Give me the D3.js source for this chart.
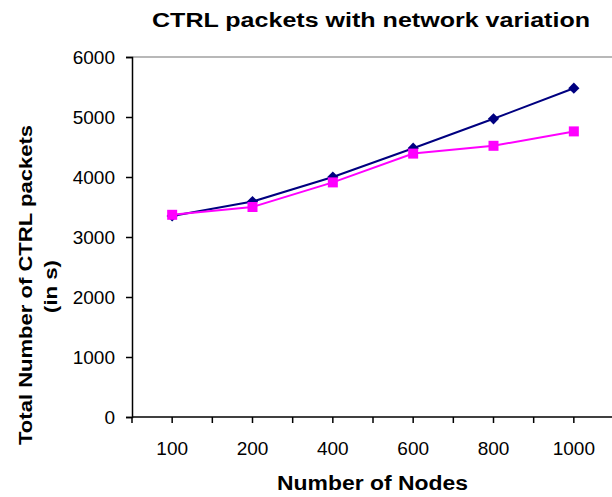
<!DOCTYPE html>
<html><head><meta charset="utf-8">
<script src="https://cdn.jsdelivr.net/npm/d3@7"></script>
<style>body{margin:0;background:#fff}svg{display:block}text{font-family:"Liberation Sans",Arial,sans-serif}</style>
</head><body>
<script>
const categories = ["100","200","400","600","800","1000"];
const seriesA = [3350, 3590, 4000, 4480, 4970, 5480];
const seriesB = [3370, 3500, 3910, 4390, 4520, 4760];
const yTicks = [0,1000,2000,3000,4000,5000,6000];

const W=612,H=497;
const svg=d3.select("body").append("svg").attr("width",W).attr("height",H);
const L=132,R=614,T=57,B=417;
const x=d3.scaleBand().domain(categories).range([L,R]);
const y=d3.scaleLinear().domain([0,6000]).range([B,T]);

// top border
svg.append("line").attr("x1",L).attr("x2",W).attr("y1",y(6000)).attr("y2",y(6000)).attr("stroke","#a0a0a0").attr("stroke-width",1.5);

// y axis
const ya=svg.append("g").attr("transform",`translate(${L},0)`)
  .call(d3.axisLeft(y).tickValues(yTicks).tickSize(6).tickPadding(11).tickFormat(d3.format("d")));
ya.select(".domain").attr("stroke","#000").attr("stroke-width",1.5);
ya.selectAll(".tick line").attr("stroke","#000").attr("stroke-width",1.5);
ya.selectAll("text").attr("font-size",19).attr("fill","#000").style("font-family","Liberation Sans, Arial, sans-serif");

// x axis
const xa=svg.append("g").attr("transform",`translate(0,${B})`)
  .call(d3.axisBottom(x).tickSize(6).tickPadding(19).tickSizeOuter(0));
xa.select(".domain").attr("stroke","#000").attr("stroke-width",1.5).attr("d",`M${L},0H${W}`);
xa.selectAll(".tick line").attr("stroke","#000").attr("stroke-width",1.5);
xa.selectAll("text").attr("font-size",19).attr("fill","#000").style("font-family","Liberation Sans, Arial, sans-serif");
// boundary ticks
xa.selectAll(".bt").data(categories.map(c=>x(c)).concat([R])).enter().append("line")
  .attr("x1",d=>d).attr("x2",d=>d).attr("y1",0).attr("y2",6).attr("stroke","#000").attr("stroke-width",1.5);

const cx=c=>x(c)+x.bandwidth()/2;
const line=d3.line().x((d,i)=>cx(categories[i])).y(d=>y(d));

svg.append("path").datum(seriesA).attr("d",line).attr("fill","none").attr("stroke","#000080").attr("stroke-width",2);
svg.selectAll(".da").data(seriesA).enter().append("path")
  .attr("transform",(d,i)=>`translate(${cx(categories[i])},${y(d)})`)
  .attr("d",d3.symbol(d3.symbolDiamond2,80)()).attr("fill","#000080").attr("stroke","none");

svg.append("path").datum(seriesB).attr("d",line).attr("fill","none").attr("stroke","#ff00ff").attr("stroke-width",2);
svg.selectAll(".sb").data(seriesB).enter().append("rect")
  .attr("x",(d,i)=>cx(categories[i])-5).attr("y",d=>y(d)-5).attr("width",10).attr("height",10).attr("fill","#ff00ff");

// titles
svg.append("text").attr("x",152).attr("y",27).attr("font-size",20).attr("font-weight","bold").attr("fill","#000")
  .attr("textLength",438).attr("lengthAdjust","spacingAndGlyphs").text("CTRL packets with network variation");
svg.append("text").attr("x",277).attr("y",490).attr("font-size",20).attr("font-weight","bold").attr("fill","#000")
  .attr("textLength",191).attr("lengthAdjust","spacingAndGlyphs").text("Number of Nodes");
const yt=svg.append("text").attr("transform","rotate(-90)").attr("font-size",19).attr("font-weight","bold").attr("fill","#000");
yt.append("tspan").attr("x",-445).attr("y",32).attr("textLength",320).attr("lengthAdjust","spacingAndGlyphs").text("Total Number of CTRL packets");
yt.append("tspan").attr("x",-313).attr("y",57).attr("textLength",53).attr("lengthAdjust","spacingAndGlyphs").text("(in s)");
</script>
</body></html>
